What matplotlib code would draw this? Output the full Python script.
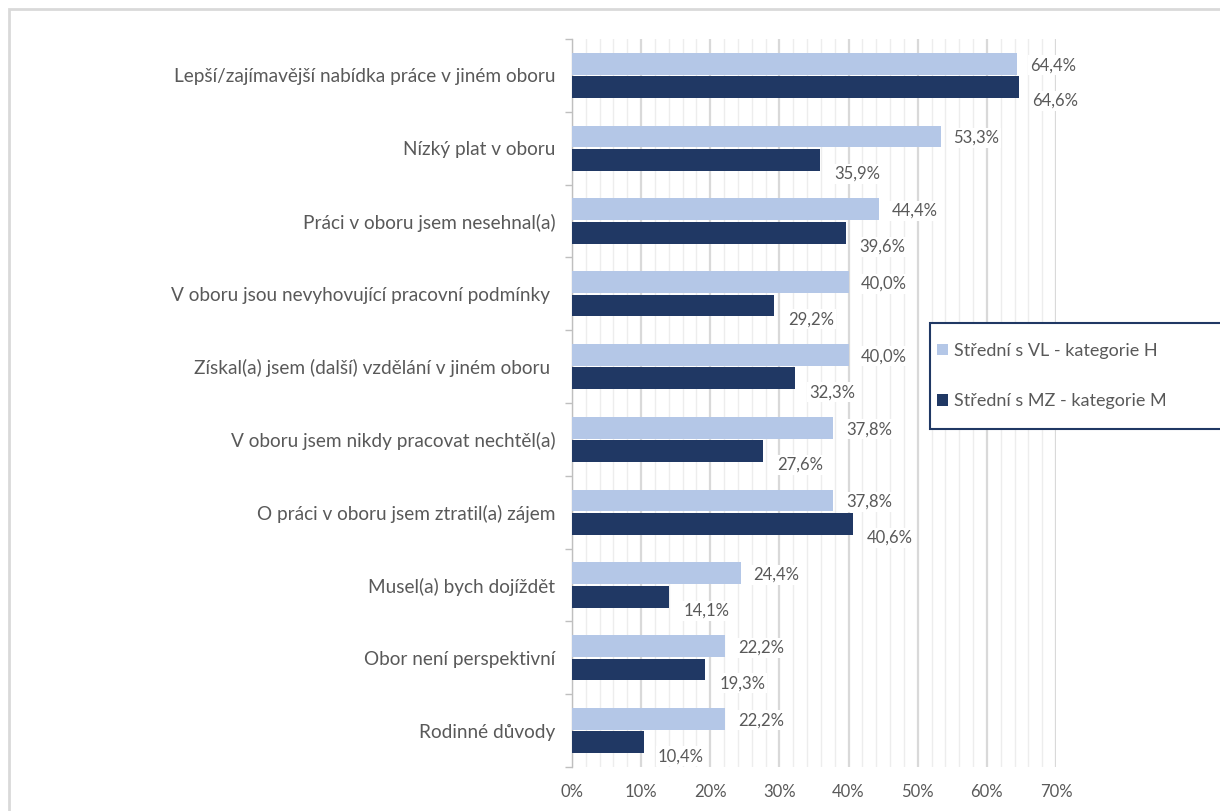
import numpy as np
import matplotlib
matplotlib.use("Agg")
import matplotlib.pyplot as plt
from matplotlib.patches import Rectangle
from matplotlib.ticker import MultipleLocator, FuncFormatter

plt.rcParams['font.family'] = ['Lato', 'DejaVu Sans']

categories = [
    "Lepší/zajímavější nabídka práce v jiném oboru",
    "Nízký plat v oboru",
    "Práci v oboru jsem nesehnal(a)",
    "V oboru jsou nevyhovující pracovní podmínky ",
    "Získal(a) jsem (další) vzdělání v jiném oboru ",
    "V oboru jsem nikdy pracovat nechtěl(a)",
    "O práci v oboru jsem ztratil(a) zájem",
    "Musel(a) bych dojíždět",
    "Obor není perspektivní",
    "Rodinné důvody",
]
kat_h = [64.4, 53.3, 44.4, 40.0, 40.0, 37.8, 37.8, 24.4, 22.2, 22.2]
kat_m = [64.6, 35.9, 39.6, 29.2, 32.3, 27.6, 40.6, 14.1, 19.3, 10.4]
series_names = ["Střední s VL - kategorie H", "Střední s MZ - kategorie M"]

light = "#B4C7E7"
dark = "#203864"
txt = "#595959"

fig = plt.figure(figsize=(12.2, 8.11), dpi=100)
ax = fig.add_axes([572/1220, 1-767/811, 484/1220, 728/811])

y = np.arange(len(categories))
h = 0.30
ax.barh(y - 0.16, kat_h, height=h, color=light, label=series_names[0], zorder=3)
ax.barh(y + 0.16, kat_m, height=h, color=dark, label=series_names[1], zorder=3)

ax.set_xlim(0, 70)
ax.set_ylim(len(categories) - 0.5, -0.5)

# gridlines
ax.xaxis.set_major_locator(MultipleLocator(10))
ax.xaxis.set_minor_locator(MultipleLocator(2))
ax.xaxis.set_major_formatter(FuncFormatter(lambda v, p: f"{v:.0f}%"))
ax.grid(axis='x', which='major', color='#D9D9D9', lw=1.6, zorder=0)
ax.grid(axis='x', which='minor', color='#EDEDED', lw=1.0, zorder=0)
ax.tick_params(axis='x', which='both', length=0, pad=12, labelsize=12, labelcolor=txt)

# category labels between boundary ticks
ax.set_yticks(np.arange(len(categories) + 1) - 0.5)
ax.set_yticklabels([])
ax.set_yticks(y, minor=True)
ax.set_yticklabels(categories, minor=True, fontsize=13.7, color=txt)
ax.tick_params(axis='y', which='major', length=5, color='#BFBFBF', width=1)
ax.tick_params(axis='y', which='minor', length=0, pad=12)

for s in ['top', 'right', 'bottom']:
    ax.spines[s].set_visible(False)
ax.spines['left'].set_color('#BFBFBF')
ax.spines['left'].set_linewidth(1)

def fmt(v):
    return f"{v:.1f}%".replace('.', ',')

box = dict(facecolor='white', edgecolor='none', pad=1.5)
for i in range(len(categories)):
    ax.annotate(fmt(kat_h[i]), (kat_h[i], i - 0.16), xytext=(9, -1),
                textcoords='offset points', va='center', ha='left',
                fontsize=12, color=txt, bbox=box, zorder=4)
    ax.annotate(fmt(kat_m[i]), (kat_m[i], i + 0.16), xytext=(10, -10),
                textcoords='offset points', va='center', ha='left',
                fontsize=12, color=txt, bbox=box, zorder=4)

# legend box drawn separately so it can run off the right edge
fig.patches.append(Rectangle((930/1220, 1-429/811), 320/1220, 106/811,
                             transform=fig.transFigure, facecolor='white',
                             edgecolor=dark, lw=1.5, zorder=5))
leg = fig.legend(loc='upper left', bbox_to_anchor=(937/1220, 1-343/811),
                 frameon=False, fontsize=13,
                 handlelength=0.6, handleheight=0.6, handletextpad=0.35,
                 labelspacing=1.9, borderpad=0, borderaxespad=0)
leg.set_zorder(6)
for t in leg.get_texts():
    t.set_color(txt)

# outer chart frame
fig.patches.append(Rectangle((9/1220, -0.1), 1.2, 1-9/811+0.1, transform=fig.transFigure,
                             fill=False, edgecolor='#D9D9D9', lw=2))

fig.savefig("out.png", dpi=100, facecolor='white')
